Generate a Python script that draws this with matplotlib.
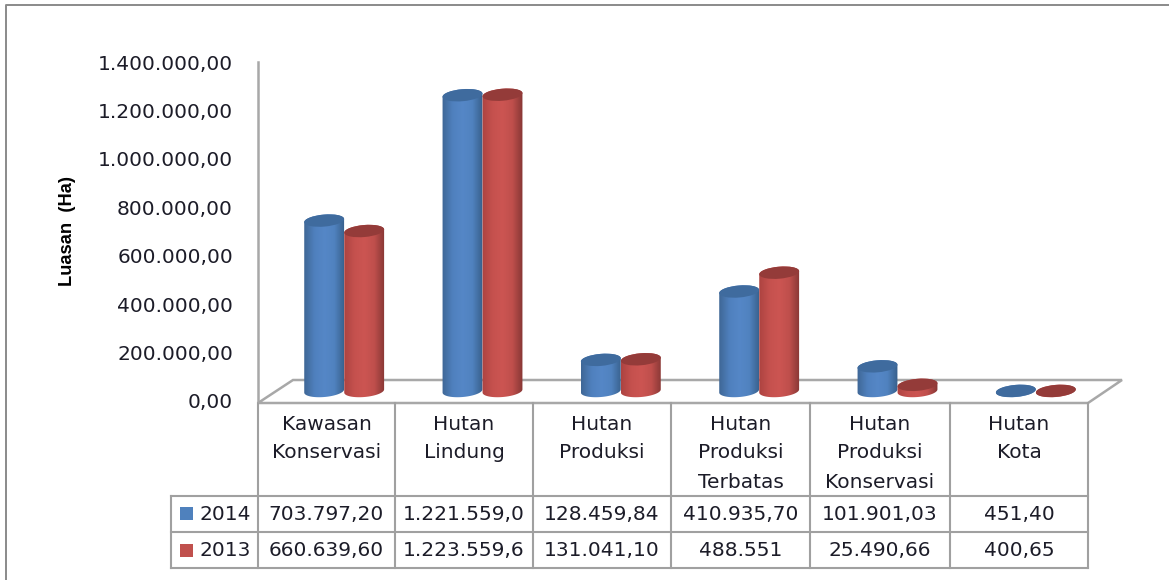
import numpy as np
import matplotlib
matplotlib.use("Agg")
import matplotlib.pyplot as plt
from matplotlib.colors import LinearSegmentedColormap
from matplotlib.patches import Ellipse, Polygon, Rectangle
from matplotlib.transforms import Affine2D, IdentityTransform

# data
categories = [["Kawasan", "Konservasi"], ["Hutan", "Lindung"], ["Hutan", "Produksi"],
              ["Hutan", "Produksi", "Terbatas"], ["Hutan", "Produksi", "Konservasi"], ["Hutan", "Kota"]]
series_names = ["2014", "2013"]
values_2014 = [703797.20, 1221559.0, 128459.84, 410935.70, 101901.03, 451.40]
values_2013 = [660639.60, 1223559.6, 131041.10, 488551, 25490.66, 400.65]
labels_2014 = ["703.797,20", "1.221.559,0", "128.459,84", "410.935,70", "101.901,03", "451,40"]
labels_2013 = ["660.639,60", "1.223.559,6", "131.041,10", "488.551", "25.490,66", "400,65"]
y_ticks = [0, 200000, 400000, 600000, 800000, 1000000, 1200000, 1400000]
y_labels = ["0,00", "200.000,00", "400.000,00", "600.000,00", "800.000,00",
            "1.000.000,00", "1.200.000,00", "1.400.000,00"]

W, H = 1169, 580
TXT = "#1c1c28"
GRID = "#a0a0a0"
FONT = 14.5

cmap_blue = LinearSegmentedColormap.from_list("b", ["#3f6796", "#4f80bd", "#5587c7", "#5082bf", "#38608c"])
cmap_red = LinearSegmentedColormap.from_list("r", ["#ad4341", "#c5514e", "#cc5552", "#bf4f4c", "#873735"])
BLUE, RED = "#4f81bd", "#c0504d"
TOP_BLUE, TOP_RED = "#3f6b9e", "#943b39"
TILT = 5
CAP_H = 12


def px_axes(x0, top, x1, bottom):
    return [x0 / W, 1 - bottom / H, (x1 - x0) / W, (bottom - top) / H]


def ellipse_pts(cx, cy, w, h, t):
    a = np.deg2rad(TILT)
    ex, ey = w / 2 * np.cos(t), h / 2 * np.sin(t)
    return np.column_stack([cx + ex * np.cos(a) - ey * np.sin(a), cy + ex * np.sin(a) + ey * np.cos(a)])


def cylinder(ax, x, val, width, cmap, top_color):
    left = ax.transData.transform((x - width / 2, 0))
    right = ax.transData.transform((x + width / 2, 0))
    cx, cy0 = ax.transData.transform((x, 0))
    cy1 = ax.transData.transform((x, val))[1]
    w = right[0] - left[0]
    low = ellipse_pts(cx, cy0, w, CAP_H, np.linspace(np.pi, 2 * np.pi, 40))
    up = ellipse_pts(cx, cy1, w, CAP_H, np.linspace(0, np.pi, 40))
    clip = Polygon(np.vstack([low, up]), transform=IdentityTransform())
    grad = np.linspace(0, 1, 64)[None, :]
    im = ax.imshow(grad, cmap=cmap, aspect="auto",
                   extent=[x - width / 2, x + width / 2, -40000, val + 40000])
    im.set_clip_box(ax.figure.bbox)
    im.set_clip_path(clip)
    ax.add_patch(Ellipse((0, 0), w, CAP_H, angle=TILT, facecolor=top_color, edgecolor="none",
                         transform=Affine2D().translate(cx, cy1), clip_on=False))


fig = plt.figure(figsize=(W / 100, H / 100), dpi=100, facecolor="white")

# overlay in pixels: frame, floor, table
ov = fig.add_axes([0, 0, 1, 1])
ov.set_xlim(0, W)
ov.set_ylim(H, 0)
ov.axis("off")
ov.plot([6, 6, W], [H, 5, 5], color="#8a8a8a", lw=1.4)
ov.add_patch(Polygon([(258, 403), (293, 380), (1122, 380), (1088, 403)], closed=True,
                     facecolor="white", edgecolor="#a8a8a8", lw=1.8))

cols = [258, 395, 533, 671, 810, 950, 1088]
for x in cols:
    ov.plot([x, x], [403, 568], color=GRID, lw=1.5)
for y in [496, 532, 568]:
    ov.plot([171, 1088], [y, y], color=GRID, lw=1.5)
ov.plot([171, 171], [496, 568], color=GRID, lw=1.5)

for i, lines in enumerate(categories):
    xc = (cols[i] + cols[i + 1]) / 2
    for line, y in zip(lines, [424, 453, 483]):
        ov.text(xc, y, line, ha="center", va="center", fontsize=FONT, color=TXT)
    ov.text(xc, 514, labels_2014[i], ha="center", va="center", fontsize=FONT, color=TXT)
    ov.text(xc, 551, labels_2013[i], ha="center", va="center", fontsize=FONT, color=TXT)

for name, y, c in zip(series_names, [514, 551], [BLUE, RED]):
    ov.add_patch(Rectangle((180, y - 7), 13, 13, facecolor=c, edgecolor="none"))
    ov.text(225, y, name, ha="center", va="center", fontsize=FONT, color=TXT)

ov.text(68, 231, "Luasan  (Ha)", rotation=90, ha="center", va="center",
        family="Liberation Sans", fontweight="bold", fontsize=13.2, color="black")

# value axis
ax = fig.add_axes(px_axes(258, 62, 1088, 401))
ax.patch.set_alpha(0)
ax.set_xlim(-0.5, 5.5)
ax.set_ylim(0, 1400000)
ax.set_xticks([])
ax.set_yticks(y_ticks)
ax.set_yticklabels(y_labels, fontsize=FONT, color=TXT)
ax.tick_params(axis="y", length=0, pad=18)
for s in ["top", "right", "bottom"]:
    ax.spines[s].set_visible(False)
ax.spines["left"].set_color("#a8a8a8")
ax.spines["left"].set_linewidth(1.8)

# bars sit on the floor, shifted by the 3D depth
bars = fig.add_axes(px_axes(258 + 17, 52, 1088 + 17, 391))
bars.axis("off")
bars.set_xlim(-0.5, 5.5)
bars.set_ylim(0, 1400000)
bar_w = 40 / 138.3
for i in range(len(categories)):
    cylinder(bars, i - bar_w / 2, values_2014[i], bar_w, cmap_blue, TOP_BLUE)
    cylinder(bars, i + bar_w / 2, values_2013[i], bar_w, cmap_red, TOP_RED)
bars.set_xlim(-0.5, 5.5)
bars.set_ylim(0, 1400000)

fig.savefig("out.png", dpi=100)
